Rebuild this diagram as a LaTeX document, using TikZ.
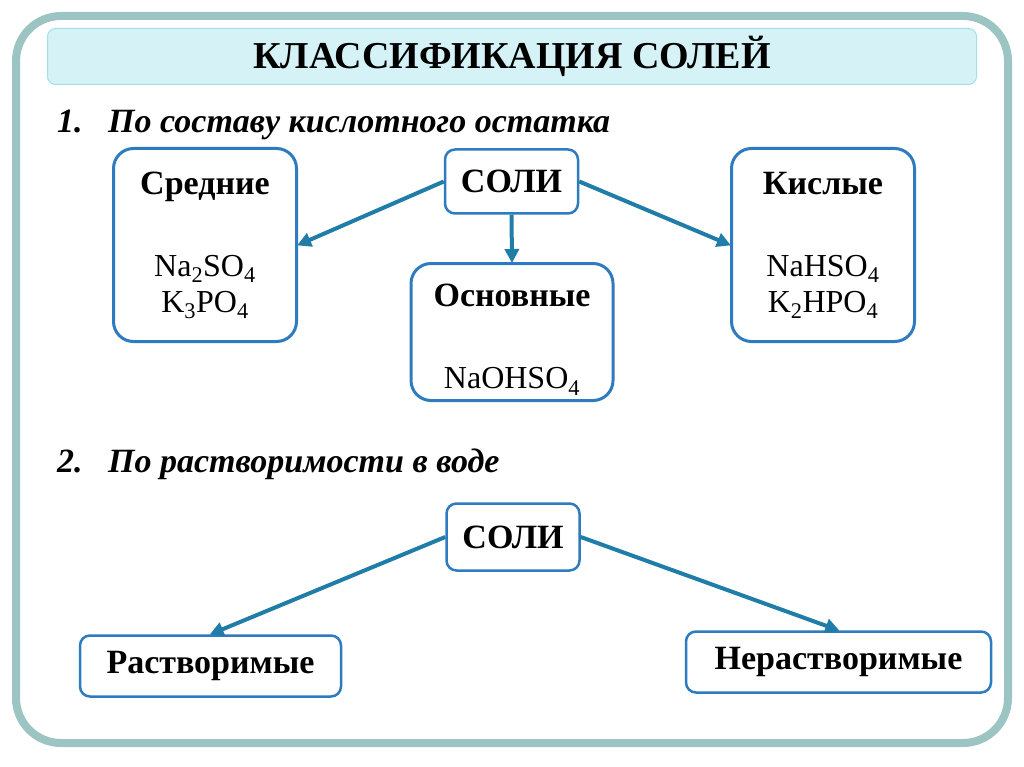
\documentclass[tikz,border=0pt]{standalone}
\usepackage{fontspec}
\setmainfont{Liberation Serif}
\usepackage{tikz}
\usetikzlibrary{arrows.meta, positioning}

\definecolor{framecol}{HTML}{9CC4C2}
\definecolor{titlefill}{HTML}{D5F3F6}
\definecolor{titleline}{HTML}{A3DFE6}
\definecolor{boxline}{HTML}{2E7BC0}
\definecolor{arrowcol}{HTML}{1F7DA8}

\tikzset{
  saltbox/.style={draw=boxline, line width=3pt, rounded corners=20pt, align=center,
    font=\fontsize{32}{36}\selectfont},
  smallbox/.style={draw=boxline, line width=2.5pt, rounded corners=10pt, align=center,
    font=\fontsize{34}{38}\selectfont\bfseries},
  heading/.style={anchor=base west, inner sep=0pt, font=\fontsize{34}{38}\selectfont\bfseries\itshape},
  link/.style={-{Triangle[length=14pt, width=14pt]}, draw=arrowcol, fill=arrowcol, line width=4pt, shorten >=-1pt}
}
\newcommand{\kind}[1]{{\fontsize{34}{36}\selectfont\bfseries #1}}

\begin{document}
\begin{tikzpicture}[x=1pt, y=-1pt]
    \useasboundingbox (0,0) rectangle (1024,767);
    \fill[white] (0,0) rectangle (1024,767);

    % Outer frame
    \draw[framecol, line width=8pt, rounded corners=45pt] (16,16) rectangle (1008,743);

    % Title
    \node[draw=titleline, fill=titlefill, line width=1pt, rounded corners=8pt,
          minimum width=929pt, minimum height=56pt, font=\fontsize{38}{42}\selectfont\bfseries] (title) at (512,56.5) {КЛАССИФИКАЦИЯ СОЛЕЙ};

    % 1. By acid residue
    \node[heading] (head1) at (57,133) {\makebox[51pt][l]{1.}По составу кислотного остатка};

    \node[smallbox, minimum width=133pt, minimum height=64pt] (soli1) at (511.5,181.5) {СОЛИ};
    \node[saltbox, minimum width=183pt, minimum height=193pt] (sred) at (205,245)
        {\kind{Средние}\\[46pt]Na\textsubscript{2}SO\textsubscript{4}\\K\textsubscript{3}PO\textsubscript{4}};
    \node[saltbox, minimum width=183pt, minimum height=193pt] (kisl) at (823,245)
        {\kind{Кислые}\\[46pt]NaHSO\textsubscript{4}\\K\textsubscript{2}HPO\textsubscript{4}};
    \node[saltbox, minimum width=202pt, minimum height=137pt] (osn) at (512,332)
        {\kind{\rule{0pt}{38pt}Основные}\\[46pt]NaOHSO\textsubscript{4}};

    \draw[link] (soli1.west) -- (sred.east);
    \draw[link] (soli1.east) -- (kisl.west);
    \draw[link] (soli1.south) -- (osn.north);

    % 2. By solubility in water
    \node[heading] (head2) at (57,472) {\makebox[51pt][l]{2.}По растворимости в воде};

    \node[smallbox, minimum width=133pt, minimum height=67pt] (soli2) at (513,537) {СОЛИ};
    \node[smallbox, minimum width=261pt, minimum height=61pt] (rastv) at (210.5,666) {Растворимые};
    \node[smallbox, minimum width=305pt, minimum height=61pt] (nerastv) at (838.5,662) {Нерастворимые};

    \draw[link] (soli2.west) -- (rastv.north);
    \draw[link] (soli2.east) -- (nerastv.north);
\end{tikzpicture}
\end{document}
